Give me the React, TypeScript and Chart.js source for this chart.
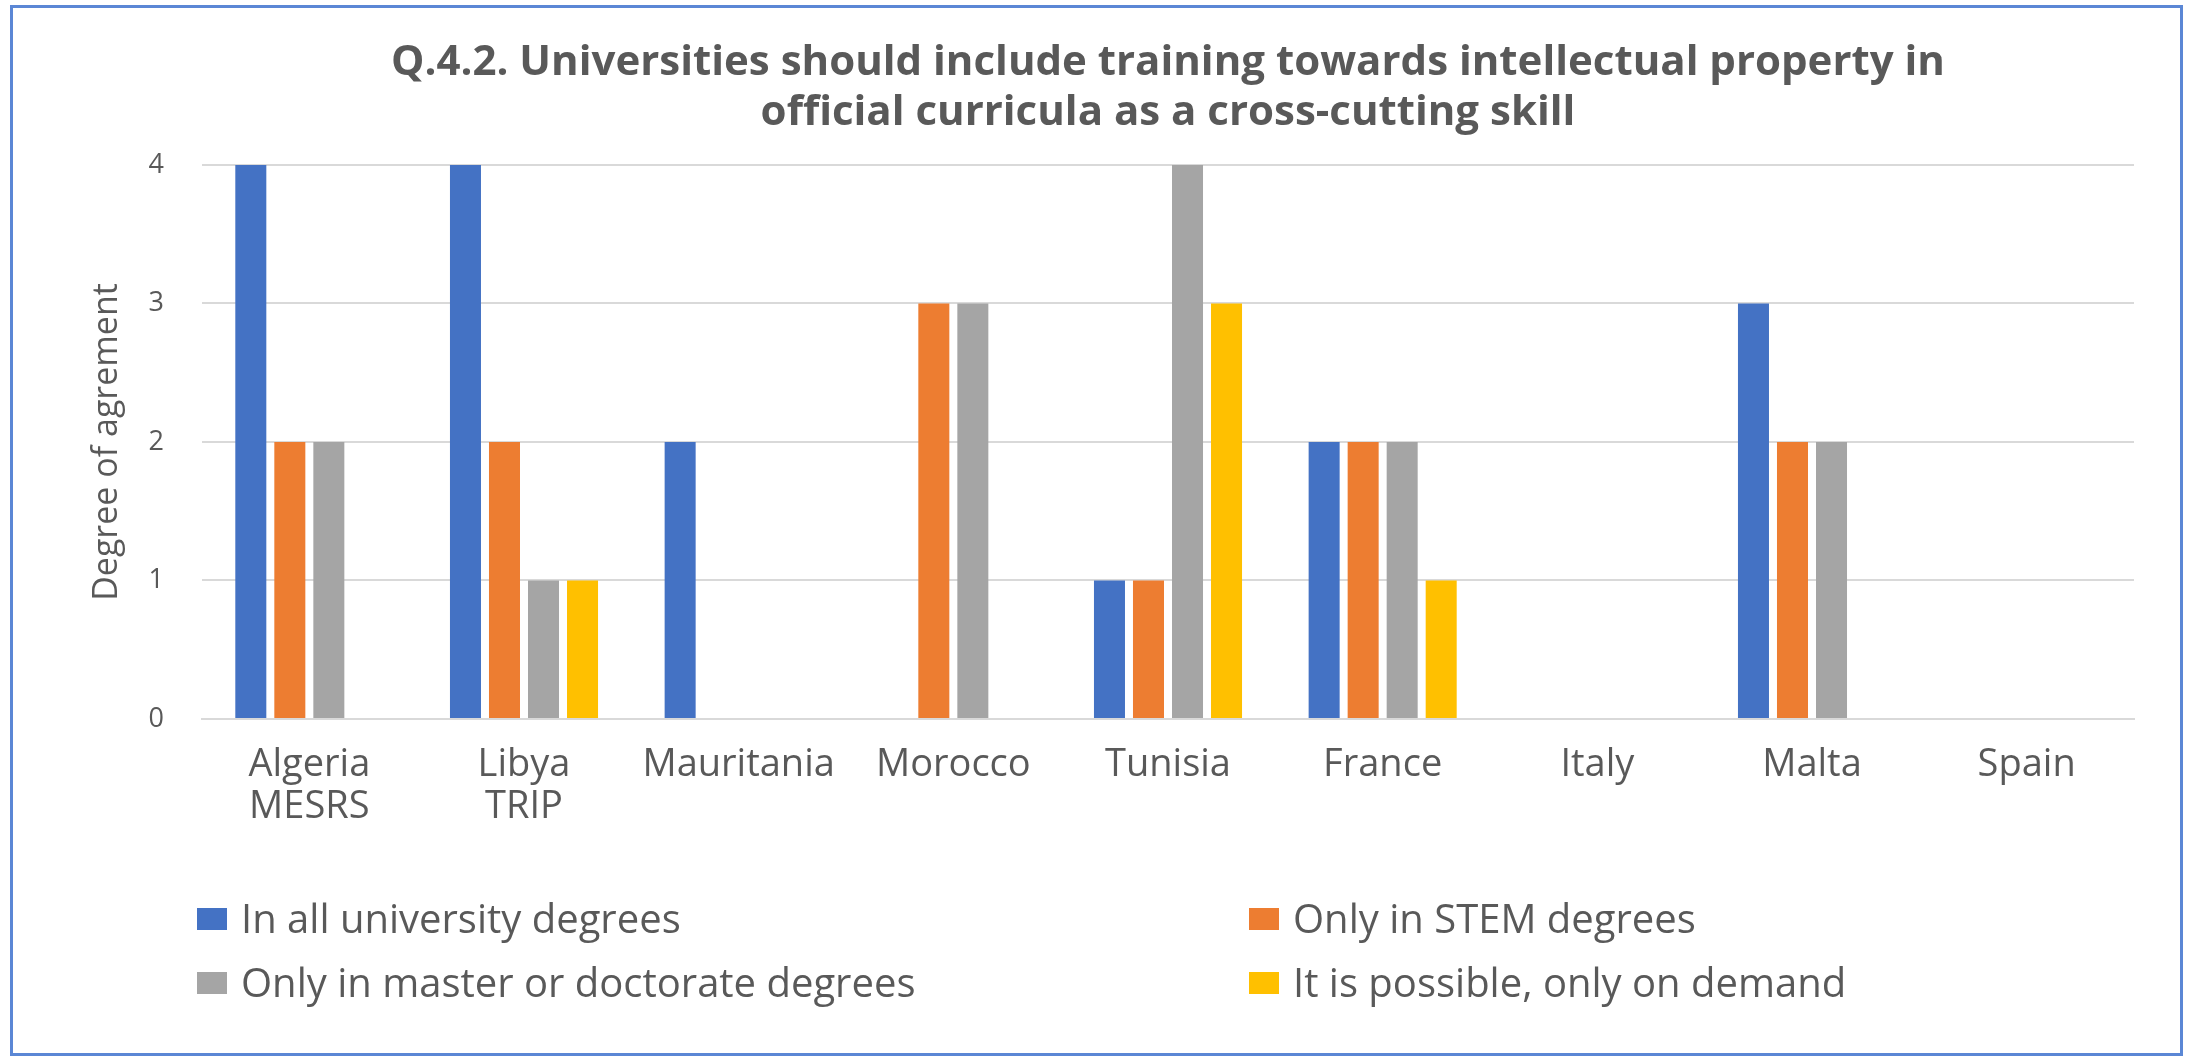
import React, { useEffect, useRef } from "react";
import { Chart, registerables } from "chart.js";

Chart.register(...registerables);

// ---------- data ----------
const TITLE_LINES = [
  "Q.4.2. Universities should include training towards intellectual property in",
  "official curricula as a cross-cutting skill",
];
const Y_AXIS_TITLE = "Degree of agrement";
const CATEGORIES: (string | string[])[] = [
  ["Algeria", "MESRS"],
  ["Libya", "TRIP"],
  "Mauritania",
  "Morocco",
  "Tunisia",
  "France",
  "Italy",
  "Malta",
  "Spain",
];
const SERIES_NAMES = [
  "In all university degrees",
  "Only in STEM degrees",
  "Only in master or doctorate degrees",
  "It is possible, only on demand",
];
const ALL_DEGREES = [4, 4, 2, 0, 1, 2, 0, 3, 0];
const STEM_ONLY = [2, 2, 0, 3, 1, 2, 0, 2, 0];
const MASTER_DOCTORATE = [2, 1, 0, 3, 4, 2, 0, 2, 0];
const ON_DEMAND = [0, 1, 0, 0, 3, 1, 0, 0, 0];
const Y_MIN = 0;
const Y_MAX = 4;
const Y_STEP = 1;
const SERIES_COLORS = ["#4472C4", "#ED7D31", "#A5A5A5", "#FFC000"];

const FONT = "'Open Sans', 'Noto Sans', sans-serif";
const TEXT_COLOR = "#595959";
const GRID_COLOR = "#D9D9D9";

const gridLegend = {
  id: "gridLegend",
  afterDraw(chart: any) {
    const { ctx, chartArea } = chart;
    const colX = [197, 1249];
    const rowTop = [chartArea.bottom + 189, chartArea.bottom + 253];
    const boxW = 30;
    const boxH = 22;
    const size = 40;
    ctx.save();
    ctx.font = `${size}px ${FONT}`;
    ctx.textBaseline = "alphabetic";
    ctx.textAlign = "left";
    chart.data.datasets.forEach((ds: any, i: number) => {
      const x = colX[i % 2];
      const y = rowTop[Math.floor(i / 2)];
      ctx.fillStyle = ds.backgroundColor;
      ctx.fillRect(x, y, boxW, boxH);
      ctx.fillStyle = TEXT_COLOR;
      ctx.fillText(ds.label, x + 44, y + boxH / 2 + size * 0.357);
    });
    ctx.restore();
  },
};

export default function App() {
  const canvasRef = useRef<HTMLCanvasElement | null>(null);

  useEffect(() => {
    if (!canvasRef.current) return;
    const seriesValues = [ALL_DEGREES, STEM_ONLY, MASTER_DOCTORATE, ON_DEMAND];
    const chart = new Chart(canvasRef.current, {
      type: "bar",
      data: {
        labels: CATEGORIES,
        datasets: seriesValues.map((vals, i) => ({
          label: SERIES_NAMES[i],
          data: vals,
          backgroundColor: SERIES_COLORS[i],
          borderWidth: 0,
          categoryPercentage: 0.727,
          barPercentage: 0.795,
        })),
      },
      options: {
        animation: false,
        responsive: true,
        maintainAspectRatio: false,
        devicePixelRatio: 1,
        layout: { padding: { left: 0, right: 51, top: 0, bottom: 209 } },
        plugins: {
          legend: { display: false },
          tooltip: { enabled: false },
          title: {
            display: true,
            fullSize: false,
            text: TITLE_LINES,
            color: TEXT_COLOR,
            font: { family: FONT, size: 42, weight: "bold", lineHeight: 1.19 },
            padding: { top: 38, bottom: 27 },
          },
        },
        scales: {
          x: {
            grid: { display: false, drawTicks: false },
            border: { display: true, color: GRID_COLOR, width: 2 },
            ticks: {
              color: TEXT_COLOR,
              font: { family: FONT, size: 38, lineHeight: 1.105 },
              padding: 25,
              maxRotation: 0,
              minRotation: 0,
              autoSkip: false,
            },
            afterFit: (scale: any) => {
              scale.height = 130;
            },
          },
          y: {
            min: Y_MIN,
            max: Y_MAX,
            grid: { color: GRID_COLOR, lineWidth: 2, drawTicks: false },
            border: { display: false },
            ticks: {
              stepSize: Y_STEP,
              color: TEXT_COLOR,
              font: { family: FONT, size: 27 },
              padding: 38,
            },
            title: {
              display: true,
              text: Y_AXIS_TITLE,
              color: TEXT_COLOR,
              font: { family: FONT, size: 34, lineHeight: 1.2 },
              padding: { top: 87, bottom: 0 },
            },
            afterFit: (scale: any) => {
              scale.width = 202;
            },
          },
        },
      },
      plugins: [gridLegend],
    });
    return () => chart.destroy();
  }, []);

  return (
    <div style={{ position: "absolute", left: 0, top: 0, width: 2185, height: 1058, background: "#ffffff" }}>
      <div style={{ position: "absolute", left: 0, top: 0, width: 2185, height: 1058 }}>
        <canvas ref={canvasRef} />
      </div>
      <div
        style={{
          position: "absolute",
          left: 10,
          top: 5,
          width: 2173,
          height: 1051,
          boxSizing: "border-box",
          border: "3px solid #5B87D5",
          pointerEvents: "none",
        }}
      />
    </div>
  );
}
